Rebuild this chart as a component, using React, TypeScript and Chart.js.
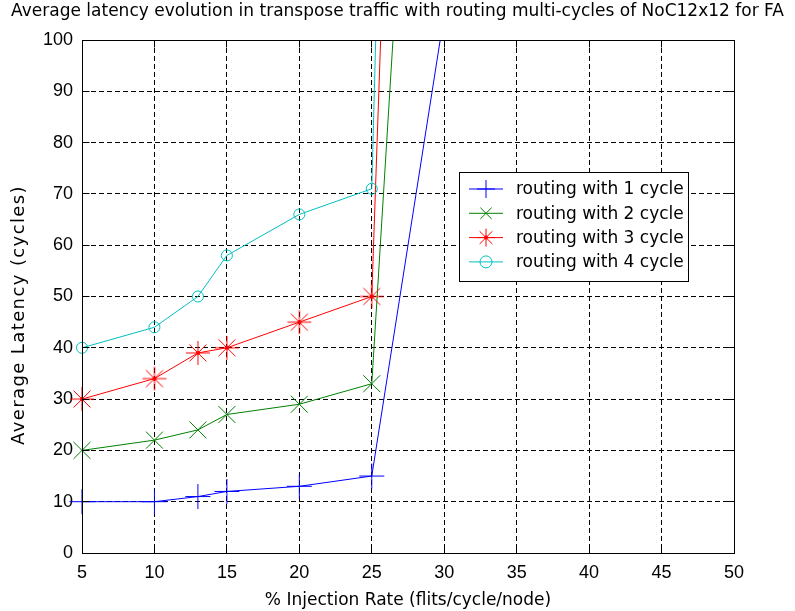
import React, { useEffect, useRef } from 'react';
import { Chart, registerables } from 'chart.js';

Chart.register(...registerables);

const TITLE = 'Average latency evolution in transpose traffic with routing multi-cycles of NoC12x12 for FA';
const X_TITLE = '% Injection Rate (flits/cycle/node)';
const Y_TITLE = 'Average Latency (cycles)';

// Injection rates (%) and average latency (cycles) for each routing delay
const rates1 = [5, 10, 13, 15, 20, 25, 30];
const latency1 = [10, 10, 11, 12, 13, 15, 105];
const rates2 = [5, 10, 13, 15, 20, 25, 30];
const latency2 = [20, 22, 24, 27, 29, 33, 262];
const rates3 = [5, 10, 13, 15, 20, 25, 30];
const latency3 = [30, 34, 39, 40, 45, 50, 460];
const rates4 = [5, 10, 13, 15, 20, 25, 30];
const latency4 = [40, 44, 50, 58, 66, 71, 608];

const seriesLabels = [
  'routing with 1 cycle',
  'routing with 2 cycle',
  'routing with 3 cycle',
  'routing with 4 cycle',
];
const seriesColors = ['#0000ff', '#008000', '#ff0000', '#00bfbf'];
const seriesMarkers = ['cross', 'crossRot', 'star', 'circle'];
const markerSizes = [12.5, 12, 12, 5.5];
const legendMarkerSizes = [9, 8, 9, 6];

const X_MIN = 5;
const X_MAX = 50;
const X_STEP = 5;
const Y_MIN = 0;
const Y_MAX = 100;
const Y_STEP = 10;

const TEXT_FONT = 'DejaVu Sans';
const TICK_FONT = 'Liberation Sans';

const toPoints = (xs: number[], ys: number[]) => xs.map((x, i) => ({ x, y: ys[i] }));

const seriesData = [
  toPoints(rates1, latency1),
  toPoints(rates2, latency2),
  toPoints(rates3, latency3),
  toPoints(rates4, latency4),
];

function drawMarker(ctx: CanvasRenderingContext2D, style: string, x: number, y: number, r: number) {
  ctx.beginPath();
  const d = Math.SQRT1_2 * r;
  if (style === 'cross' || style === 'star') {
    ctx.moveTo(x - r, y);
    ctx.lineTo(x + r, y);
    ctx.moveTo(x, y - r);
    ctx.lineTo(x, y + r);
  }
  if (style === 'crossRot' || style === 'star') {
    ctx.moveTo(x - d, y - d);
    ctx.lineTo(x + d, y + d);
    ctx.moveTo(x + d, y - d);
    ctx.lineTo(x - d, y + d);
  }
  if (style === 'circle') {
    ctx.arc(x, y, r, 0, Math.PI * 2);
  }
  ctx.stroke();
  if (style === 'star') {
    ctx.beginPath();
    ctx.fillStyle = ctx.strokeStyle as string;
    ctx.arc(x, y, 2, 0, Math.PI * 2);
    ctx.fill();
  }
}

// Asterisk sprite with a solid hub, used as the point style of the 3-cycle series
function makeStarSprite(color: string, r: number): HTMLCanvasElement {
  const size = Math.ceil(r * 2 + 2);
  const c = document.createElement('canvas');
  c.width = size;
  c.height = size;
  const g = c.getContext('2d')!;
  g.strokeStyle = color;
  g.lineWidth = 1;
  drawMarker(g, 'star', size / 2, size / 2, r);
  return c;
}

const align = (v: number) => Math.round(v - 0.5) + 0.5;

// Axes box with inward tick marks, the boxed legend, the title and the y-axis title
const framePlugin = {
  id: 'frameAndLegend',
  afterDatasetsDraw(chart: any) {
    const { ctx, chartArea, scales } = chart;
    const l = align(chartArea.left);
    const r = align(chartArea.right);
    const t = align(chartArea.top);
    const b = align(chartArea.bottom);
    const tickLen = 7;

    ctx.save();
    ctx.setLineDash([]);
    ctx.strokeStyle = '#000';
    ctx.lineWidth = 1;
    ctx.strokeRect(l, t, r - l, b - t);

    ctx.beginPath();
    scales.x.ticks.forEach((tk: any) => {
      const px = align(scales.x.getPixelForValue(tk.value));
      ctx.moveTo(px, b);
      ctx.lineTo(px, b - tickLen);
      ctx.moveTo(px, t);
      ctx.lineTo(px, t + tickLen);
    });
    scales.y.ticks.forEach((tk: any) => {
      const py = align(scales.y.getPixelForValue(tk.value));
      ctx.moveTo(l, py);
      ctx.lineTo(l + tickLen, py);
      ctx.moveTo(r, py);
      ctx.lineTo(r - tickLen, py);
    });
    ctx.stroke();

    // legend
    const bx = 459.5;
    const by = 172.5;
    const bw = 229;
    const bh = 109;
    ctx.fillStyle = '#fff';
    ctx.fillRect(bx, by, bw, bh);
    ctx.strokeRect(bx, by, bw, bh);

    seriesLabels.forEach((label, i) => {
      const y = 189 + i * 24.3;
      ctx.strokeStyle = seriesColors[i];
      ctx.lineWidth = 1;
      ctx.beginPath();
      ctx.moveTo(469, y);
      ctx.lineTo(503, y);
      ctx.stroke();
      drawMarker(ctx, seriesMarkers[i], 486, y, legendMarkerSizes[i]);
      ctx.fillStyle = '#000';
      ctx.font = `17px "${TEXT_FONT}"`;
      ctx.textBaseline = 'middle';
      ctx.textAlign = 'left';
      ctx.fillText(label, 516, y + 1);
    });

    // chart title
    ctx.fillStyle = '#000';
    ctx.textAlign = 'center';
    ctx.textBaseline = 'middle';
    ctx.font = `17px "${TEXT_FONT}"`;
    ctx.fillText(TITLE, 397.5, 12);

    // y-axis title
    ctx.save();
    ctx.translate(19, 315);
    ctx.rotate(-Math.PI / 2);
    ctx.font = `18px "${TEXT_FONT}"`;
    (ctx as any).letterSpacing = '1.4px';
    ctx.fillText(Y_TITLE, 0, 0);
    ctx.restore();

    ctx.restore();
  },
};

export default function App() {
  const canvasRef = useRef<HTMLCanvasElement>(null);

  useEffect(() => {
    const canvas = canvasRef.current;
    if (!canvas) return;

    const pointStyles: any[] = seriesMarkers.map((m, i) =>
      m === 'star' ? makeStarSprite(seriesColors[i], markerSizes[i]) : m
    );

    const datasets = seriesData.map((data, i) => ({
      label: seriesLabels[i],
      data,
      borderColor: seriesColors[i],
      backgroundColor: seriesColors[i],
      borderWidth: 1,
      tension: 0,
      fill: false,
      pointStyle: pointStyles[i],
      pointRadius: (c: any) => (c.raw && c.raw.y > Y_MAX ? 0 : markerSizes[i]),
      pointBorderColor: seriesColors[i],
      pointBackgroundColor: 'rgba(0,0,0,0)',
      pointBorderWidth: 1,
      order: seriesData.length - i,
      clip: { left: 20, top: 0, right: 0, bottom: 0 },
    }));

    const chart = new Chart(canvas, {
      type: 'line',
      data: { datasets },
      plugins: [framePlugin],
      options: {
        animation: false,
        responsive: false,
        maintainAspectRatio: false,
        devicePixelRatio: 1,
        events: [],
        layout: { padding: { top: 40, right: 61, bottom: 0, left: 0 } },
        plugins: {
          legend: { display: false },
          tooltip: { enabled: false },
          title: { display: false },
        },
        scales: {
          x: {
            type: 'linear',
            min: X_MIN,
            max: X_MAX,
            ticks: {
              stepSize: X_STEP,
              color: '#000',
              font: { family: TICK_FONT, size: 18 },
              padding: 9,
              maxRotation: 0,
              autoSkip: false,
            },
            grid: { color: '#000', lineWidth: 1, drawTicks: false },
            border: { display: true, color: '#000', width: 1, dash: [5, 3] },
            title: {
              display: true,
              text: X_TITLE,
              color: '#000',
              font: { family: TEXT_FONT, size: 17, lineHeight: 1.2 },
              padding: { top: 3.8, bottom: 0 },
            },
            afterFit: (s: any) => {
              s.height = 58;
            },
          },
          y: {
            type: 'linear',
            min: Y_MIN,
            max: Y_MAX,
            ticks: {
              stepSize: Y_STEP,
              color: '#000',
              font: { family: TICK_FONT, size: 18 },
              padding: 9,
            },
            grid: { color: '#000', lineWidth: 1, drawTicks: false },
            border: { display: true, color: '#000', width: 1, dash: [5, 3] },
            title: { display: false },
            afterFit: (s: any) => {
              s.width = 82;
            },
          },
        },
      } as any,
    });

    return () => chart.destroy();
  }, []);

  return (
    <div style={{ position: 'absolute', left: 0, top: 0, width: 795, height: 611, background: '#fff' }}>
      <canvas ref={canvasRef} width={795} height={611} style={{ display: 'block', width: 795, height: 611 }} />
    </div>
  );
}
